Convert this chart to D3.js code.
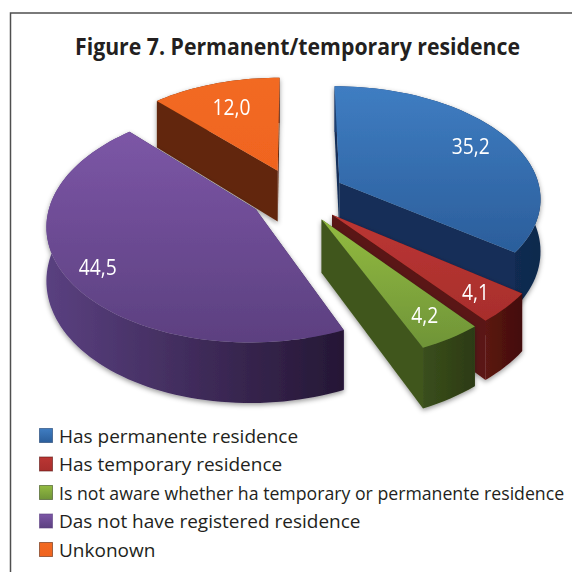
<!DOCTYPE html>
<html>
<head>
<meta charset="utf-8">
<script src="https://cdn.jsdelivr.net/npm/d3@7/dist/d3.min.js"></script>
<style>
  html, body { margin: 0; padding: 0; background: #fff; }
  text { font-family: "Open Sans", "Noto Sans", sans-serif; }
</style>
</head>
<body>
<svg id="chart"></svg>
<script>
const title = "Figure 7. Permanent/temporary residence";
const categories = [
  "Has permanente residence",
  "Has temporary residence",
  "Is not aware whether ha temporary or permanente residence",
  "Das not have registered residence",
  "Unkonown"
];
const values = [35.2, 4.1, 4.2, 44.5, 12.0];
const valueLabels = ["35,2", "4,1", "4,2", "44,5", "12,0"];

const topLight = ["#3f7dc2", "#bb3633", "#93bb40", "#7c56a6", "#f26a22"];
const topDark = ["#2b5e9b", "#a82e2c", "#6f9438", "#5c4080", "#f0641f"];
const sideColor = ["#122f58", "#5a1512", "#40561f", "#3a2856", "#62280d"];
const wallLight = ["#1c3f70", "#5c1512", "#3a4f1c", "#5a4080", "#62280d"];
const wallDark = ["#10294d", "#420e0c", "#2c3a13", "#251735", "#62280d"];
// how far each slice is pulled out, and its size, as drawn in the original
const explode = [0.24, 0.24, 0.24, 0.22, 0.23];
const sliceRadius = [0.96, 1, 1, 0.97, 0.95];
const labelRadius = [0.75, 0.84, 0.82, 0.82, 0.68];
const labelWidths = [38, 27, 27, 38, 38];
const legendSizes = [19, 19, 17.7, 19, 19];
// red and green are painted last, they sit in front of the blue slice
const paintOrder = [4, 0, 3, 1, 2];

const size = 572;
const svg = d3.select("#chart").attr("width", size).attr("height", size);
const defs = svg.append("defs");

// frame, runs off the page on the right and at the bottom
svg.append("path")
  .attr("d", "M572,13H10.5V572")
  .attr("fill", "none")
  .attr("stroke", "#4f4f4f")
  .attr("stroke-width", 1.5);

svg.append("text")
  .attr("x", 297.5)
  .attr("y", 55)
  .attr("text-anchor", "middle")
  .attr("font-size", 23)
  .attr("font-weight", 700)
  .attr("fill", "#231f20")
  .attr("textLength", 445)
  .attr("lengthAdjust", "spacingAndGlyphs")
  .text(title);

// the pie, tilted with a small perspective
const cx = 295, cy = 195;
const radiusX = 210, radiusY = 116;
const persp = 0.13, depth = 52;

function project(u, v, down) {
  const s = 1 / (1 - persp * v);
  return [cx + radiusX * u * s, cy + radiusY * v * s + (down ? depth * s : 0)];
}

const pie = d3.pie().sort(null)(values);

function unit(i, angle, r, mid) {
  return [
    explode[i] * Math.sin(mid) + r * Math.sin(angle),
    -explode[i] * Math.cos(mid) - r * Math.cos(angle)
  ];
}

const line = d3.line();

function arcAngles(d) {
  const n = Math.max(4, Math.ceil((d.endAngle - d.startAngle) * 30));
  return d3.range(n + 1).map(k => d.startAngle + (d.endAngle - d.startAngle) * k / n);
}

const shadow = defs.append("filter").attr("id", "shadow")
  .attr("x", "-20%").attr("y", "-20%").attr("width", "140%").attr("height", "140%");
shadow.append("feDropShadow")
  .attr("dx", 0).attr("dy", 2).attr("stdDeviation", 2.5)
  .attr("flood-color", "#000").attr("flood-opacity", 0.4);

const soften = defs.append("filter").attr("id", "soften");
soften.append("feGaussianBlur").attr("stdDeviation", 0.4);

pie.forEach((d, i) => {
  const top = defs.append("linearGradient").attr("id", "top" + i)
    .attr("x1", 0).attr("y1", 0).attr("x2", 0).attr("y2", 1);
  top.append("stop").attr("offset", "0%").attr("stop-color", topLight[i]);
  top.append("stop").attr("offset", "100%").attr("stop-color", topDark[i]);
  const wall = defs.append("linearGradient").attr("id", "wall" + i)
    .attr("x1", 0).attr("y1", 0).attr("x2", 1).attr("y2", 0);
  wall.append("stop").attr("offset", "0%").attr("stop-color", wallLight[i]);
  wall.append("stop").attr("offset", "100%").attr("stop-color", wallDark[i]);
});

const pieGroup = svg.append("g").attr("filter", "url(#soften)");

paintOrder.forEach(i => {
  const d = pie[i];
  const mid = (d.startAngle + d.endAngle) / 2;
  const angles = arcAngles(d);
  const apex = unit(i, 0, 0, mid);
  const rim = angles.map(a => unit(i, a, sliceRadius[i], mid));
  const g = pieGroup.append("g").attr("filter", "url(#shadow)");

  // straight sides
  [rim[0], rim[rim.length - 1]].forEach(p => {
    g.append("path")
      .attr("d", line([
        project(apex[0], apex[1], false),
        project(p[0], p[1], false),
        project(p[0], p[1], true),
        project(apex[0], apex[1], true)
      ]) + "Z")
      .attr("fill", sideColor[i]);
  });

  // outer wall
  g.append("path")
    .attr("d", line(
      rim.map(p => project(p[0], p[1], false))
        .concat(rim.slice().reverse().map(p => project(p[0], p[1], true)))
    ) + "Z")
    .attr("fill", `url(#wall${i})`);

  // top face
  g.append("path")
    .attr("d", line(
      [project(apex[0], apex[1], false)].concat(rim.map(p => project(p[0], p[1], false)))
    ) + "Z")
    .attr("fill", `url(#top${i})`);
});

// value labels
pie.forEach((d, i) => {
  const mid = (d.startAngle + d.endAngle) / 2;
  const p = unit(i, mid, labelRadius[i], mid);
  const xy = project(p[0], p[1], false);
  svg.append("text")
    .attr("x", xy[0])
    .attr("y", xy[1] + 8)
    .attr("text-anchor", "middle")
    .attr("font-size", 22)
    .attr("fill", "#fff")
    .attr("textLength", labelWidths[i])
    .attr("lengthAdjust", "spacingAndGlyphs")
    .text(valueLabels[i]);
});

// legend
const legendY = d3.scalePoint().domain(categories).range([436, 550]);
const legend = svg.append("g").selectAll("g")
  .data(categories)
  .enter()
  .append("g")
    .attr("transform", d => `translate(39,${legendY(d)})`);

legend.append("rect")
  .attr("x", 0.5)
  .attr("y", -7.5)
  .attr("width", 13)
  .attr("height", 14)
  .attr("fill", (d, i) => `url(#top${i})`)
  .attr("stroke", (d, i) => wallLight[i])
  .attr("stroke-opacity", 0.6);

legend.append("text")
  .attr("x", 20)
  .attr("y", 6.5)
  .attr("font-size", (d, i) => legendSizes[i])
  .attr("fill", "#231f20")
  .text(d => d);
</script>
</body>
</html>
